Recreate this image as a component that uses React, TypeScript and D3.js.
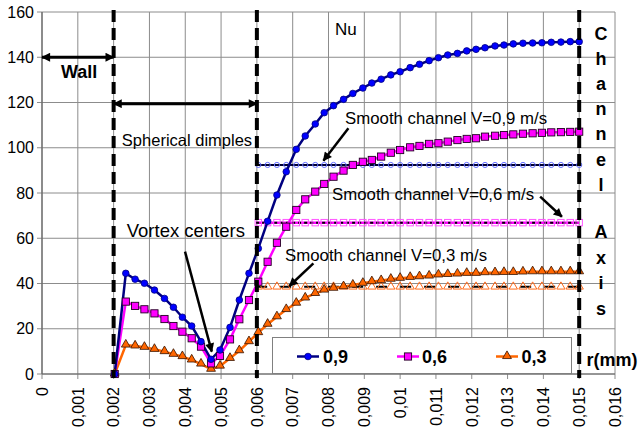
import React from "react";
import * as d3 from "d3";

// radius positions (m) of the measured points
const rValues = [
  0.00203, 0.00234, 0.0026, 0.00286, 0.00314, 0.00342, 0.00367, 0.00392, 0.00418, 0.00444,
  0.00472, 0.00497, 0.00525, 0.00551, 0.00578, 0.00604, 0.0063, 0.00656, 0.00682, 0.0071,
  0.00735, 0.00763, 0.00788, 0.00814, 0.00842, 0.00868, 0.00896, 0.00921, 0.00947, 0.00974,
  0.01, 0.01028, 0.01054, 0.01081, 0.01107, 0.01133, 0.0116, 0.01186, 0.01212, 0.01237,
  0.01265, 0.0129, 0.01316, 0.01343, 0.0137, 0.01396, 0.01422, 0.01449, 0.01475, 0.015,
];

const nu09 = [
  0, 44.5, 41.9, 40.1, 37.1, 33.4, 29.5, 25.1, 21.2, 14.3,
  6.5, 10.6, 20.6, 32.7, 44.5, 55.5, 67.5, 79.1, 89.4, 99.3,
  105.2, 110.5, 115.5, 118.6, 121.4, 124.0, 126.4, 128.6, 130.3, 132.2,
  133.6, 135.4, 136.9, 138.5, 139.8, 141.0, 141.7, 142.8, 143.5, 144.2,
  145.0, 145.4, 145.9, 146.2, 146.3, 146.4, 146.6, 146.7, 146.9, 146.9,
];

const nu06 = [
  0, 32.0, 30.1, 28.6, 26.8, 24.3, 21.2, 18.7, 15.8, 12.1,
  4.7, 8.0, 15.3, 24.2, 32.7, 40.8, 49.6, 58.0, 65.1, 72.5,
  77.2, 80.6, 84.0, 87.2, 89.9, 92.4, 93.8, 94.6, 96.1, 97.8,
  99.0, 100.2, 100.8, 101.7, 102.0, 102.7, 103.4, 103.9, 104.2, 104.9,
  105.3, 105.6, 105.9, 106.2, 106.4, 106.6, 106.8, 106.9, 107.0, 107.1,
];

const nu03 = [
  0, 12.8, 12.4, 11.8, 10.9, 9.9, 8.7, 7.7, 6.2, 4.4,
  2.1, 3.5, 6.9, 10.3, 14.3, 18.3, 22.0, 25.3, 28.5, 31.3,
  33.6, 35.6, 37.1, 37.9, 38.6, 39.3, 40.1, 40.8, 41.3, 41.9,
  42.3, 42.7, 43.0, 43.3, 43.8, 44.0, 44.2, 44.5, 44.5, 44.8,
  44.8, 44.9, 44.9, 45.1, 45.2, 45.2, 45.2, 45.2, 45.2, 45.2,
];

// smooth channel reference levels
const smoothR = rValues.slice(15);
const smooth09 = 92.4;
const smooth06 = 66.9;
const smooth03 = 38.6;

const xTicks = [0, 0.001, 0.002, 0.003, 0.004, 0.005, 0.006, 0.007, 0.008, 0.009, 0.01, 0.011, 0.012, 0.013, 0.014, 0.015, 0.016];
const yTicks = [0, 20, 40, 60, 80, 100, 120, 140, 160];
const zoneLines = [0.002, 0.006, 0.015];
const legendLabels = ["0,9", "0,6", "0,3"];

const FONT = "Liberation Sans, Arial, Helvetica, sans-serif";

const W = 641, H = 434;
const x = d3.scaleLinear().domain([0, 0.016]).range([42, 615]);
const y = d3.scaleLinear().domain([0, 160]).range([374, 12]);

const fmt = (v: number) => (v === 0 ? "0" : String(v).replace(".", ","));

export default function App() {
  const line = d3.line<[number, number]>().x(d => x(d[0])).y(d => y(d[1]));
  const pts = (vals: number[]) => rValues.map((r, i) => [r, vals[i]] as [number, number]);
  const tri = d3.symbol(d3.symbolTriangle, 34)() as string;
  const triSmall = d3.symbol(d3.symbolTriangle, 30)() as string;

  const arrow = (x1: number, y1: number, x2: number, y2: number, key: string, dbl = false, w = 2.5) => (
    <line key={key} x1={x(x1)} y1={y(y1)} x2={x(x2)} y2={y(y2)} stroke="#000" strokeWidth={w}
      markerEnd="url(#ah)" markerStart={dbl ? "url(#ah)" : undefined} />
  );

  const channel = "Channel".split("");
  const axis = "Axis".split("");

  return (
    <div style={{ position: "absolute", left: 0, top: 0 }}>
      <svg width={W} height={H} style={{ display: "block", background: "#fff" }} fontFamily={FONT}>
        <defs>
          <marker id="ah" viewBox="0 0 10 10" refX="9" refY="5" markerWidth="11" markerHeight="9"
            markerUnits="userSpaceOnUse" orient="auto-start-reverse">
            <path d="M0,0 L10,5 L0,10 z" fill="#000" />
          </marker>
        </defs>
        <rect width={W} height={H} fill="#fff" />

        {/* grid */}
        {xTicks.map(t => (
          <line key={"gx" + t} x1={x(t)} x2={x(t)} y1={y(160)} y2={y(0) + 5} stroke="#8c8c8c" strokeWidth={1} />
        ))}
        {yTicks.map(t => (
          <line key={"gy" + t} x1={x(0) - 5} x2={x(0.016)} y1={y(t)} y2={y(t)} stroke="#8c8c8c" strokeWidth={1} />
        ))}
        <line x1={x(0)} x2={x(0)} y1={y(160)} y2={y(0)} stroke="#666" strokeWidth={1.2} />
        <line x1={x(0)} x2={x(0.016)} y1={y(0)} y2={y(0)} stroke="#666" strokeWidth={1.2} />

        {/* tick labels */}
        {yTicks.map(t => (
          <text key={"ly" + t} x={34} y={y(t)} dy="0.35em" textAnchor="end" fontSize={16} fill="#000">{t}</text>
        ))}
        {xTicks.map(t => (
          <text key={"lx" + t} transform={`translate(${x(t)},387) rotate(-90)`} dy="0.36em" textAnchor="end"
            fontSize={16} fill="#000">{fmt(t)}</text>
        ))}

        {/* smooth channel references */}
        <line x1={x(0.00598)} x2={x(0.015)} y1={y(smooth09)} y2={y(smooth09)} stroke="#000033" strokeWidth={2} />
        {smoothR.map(r => (
          <circle key={"s9" + r} cx={x(r)} cy={y(smooth09)} r={2.6} fill="none" stroke="#6670ff" strokeWidth={1} />
        ))}
        <line x1={x(0.00598)} x2={x(0.015)} y1={y(smooth06)} y2={y(smooth06)} stroke="#ff00ff" strokeWidth={2.5} />
        <line x1={x(0.00598)} x2={x(0.015)} y1={y(smooth06)} y2={y(smooth06)} stroke="#000" strokeWidth={2} strokeDasharray="3,3" />
        {smoothR.map(r => (
          <rect key={"s6" + r} x={x(r) - 3.2} y={y(smooth06) - 3.2} width={6.4} height={6.4} fill="none" stroke="#ff55ff" strokeWidth={1} />
        ))}
        <line x1={x(0.00598)} x2={x(0.015)} y1={y(smooth03)} y2={y(smooth03)} stroke="#000" strokeWidth={2} strokeDasharray="11,13" />
        {smoothR.map(r => (
          <path key={"s3" + r} d={triSmall} transform={`translate(${x(r)},${y(smooth03)})`} fill="none" stroke="#ff6a1a" strokeWidth={1} />
        ))}

        {/* series lines */}
        <path d={line(pts(nu03)) as string} fill="none" stroke="#ff6600" strokeWidth={2.5} />
        <path d={line(pts(nu06)) as string} fill="none" stroke="#ff00ff" strokeWidth={2.5} />
        <path d={line(pts(nu09)) as string} fill="none" stroke="#000080" strokeWidth={2.5} />

        {/* markers */}
        {rValues.map((r, i) => (
          <path key={"m3" + i} d={tri} transform={`translate(${x(r)},${y(nu03[i]) - 0.5})`} fill="#ff6600" stroke="#331100" strokeWidth={0.8} />
        ))}
        {rValues.map((r, i) => (
          <rect key={"m6" + i} x={x(r) - 3.6} y={y(nu06[i]) - 3.6} width={7.2} height={7.2} fill="#ff00ff" stroke="#220022" strokeWidth={0.9} />
        ))}
        {rValues.map((r, i) => (
          <circle key={"m9" + i} cx={x(r)} cy={y(nu09[i])} r={3.3} fill="#0000ff" stroke="#000080" strokeWidth={0.8} />
        ))}

        {/* zone boundaries */}
        {zoneLines.map(z => (
          <line key={"z" + z} x1={x(z)} x2={x(z)} y1={y(160) - 2} y2={y(0) + 4} stroke="#000" strokeWidth={4} strokeDasharray="12,6" />
        ))}

        {/* annotations */}
        {arrow(0, 140, 0.002, 140, "wall", true, 3)}
        {arrow(0.002, 119.5, 0.006, 119.5, "dimp", true, 3)}
        <text x={x(0.00053)} y={y(131)} fontSize={18} fontWeight="bold">Wall</text>
        <text x={x(0.00223)} y={y(100.6)} fontSize={16.5}>Spherical dimples</text>
        <text x={x(0.00818)} y={y(149.8)} fontSize={17}>Nu</text>
        <text x={x(0.002366)} y={y(60.4)} fontSize={18.5}>Vortex centers</text>
        {arrow(0.003994, 54.1, 0.00474, 9.9, "vort")}
        <text x={x(0.008464)} y={y(110.5)} fontSize={16.8}>Smooth channel V=0,9 m/s</text>
        {arrow(0.008556, 108.6, 0.007858, 94.3, "a9")}
        <text x={x(0.0081)} y={y(76.9)} fontSize={16.8}>Smooth channel V=0,6 m/s</text>
        {arrow(0.01391, 78.4, 0.014517, 69.5, "a6")}
        <text x={x(0.006788)} y={y(50.1)} fontSize={16.8}>Smooth channel V=0,3 m/s</text>
        {arrow(0.007578, 48.9, 0.006908, 38.9, "a3")}

        {channel.map((c, i) => (
          <text key={"c" + i} x={601} y={40 + i * 25.1} textAnchor="middle" fontSize={18} fontWeight="bold">{c}</text>
        ))}
        {axis.map((c, i) => (
          <text key={"a" + i} x={601} y={238.3 + i * 25.5} textAnchor="middle" fontSize={18} fontWeight="bold">{c}</text>
        ))}
        <text x={586.5} y={366} fontSize={18} fontWeight="bold">r(mm)</text>

        {/* legend */}
        <g>
          <rect x={272.5} y={337.5} width={299} height={36} fill="#fff" stroke="#808080" strokeWidth={1} />
          <line x1={297} x2={319} y1={356.5} y2={356.5} stroke="#000080" strokeWidth={2.5} />
          <circle cx={308} cy={356.5} r={3.3} fill="#0000ff" stroke="#000080" strokeWidth={0.8} />
          <text x={323} y={356.5} dy="0.36em" fontSize={18} fontWeight="bold">{legendLabels[0]}</text>
          <line x1={397} x2={419} y1={356.5} y2={356.5} stroke="#ff00ff" strokeWidth={2.5} />
          <rect x={404.4} y={352.9} width={7.2} height={7.2} fill="#ff00ff" stroke="#220022" strokeWidth={0.9} />
          <text x={422} y={356.5} dy="0.36em" fontSize={18} fontWeight="bold">{legendLabels[1]}</text>
          <line x1={496} x2={518} y1={356.5} y2={356.5} stroke="#ff6600" strokeWidth={2.5} />
          <path d={tri} transform="translate(507,356)" fill="#ff6600" stroke="#331100" strokeWidth={0.8} />
          <text x={521.5} y={356.5} dy="0.36em" fontSize={18} fontWeight="bold">{legendLabels[2]}</text>
        </g>
      </svg>
    </div>
  );
}
